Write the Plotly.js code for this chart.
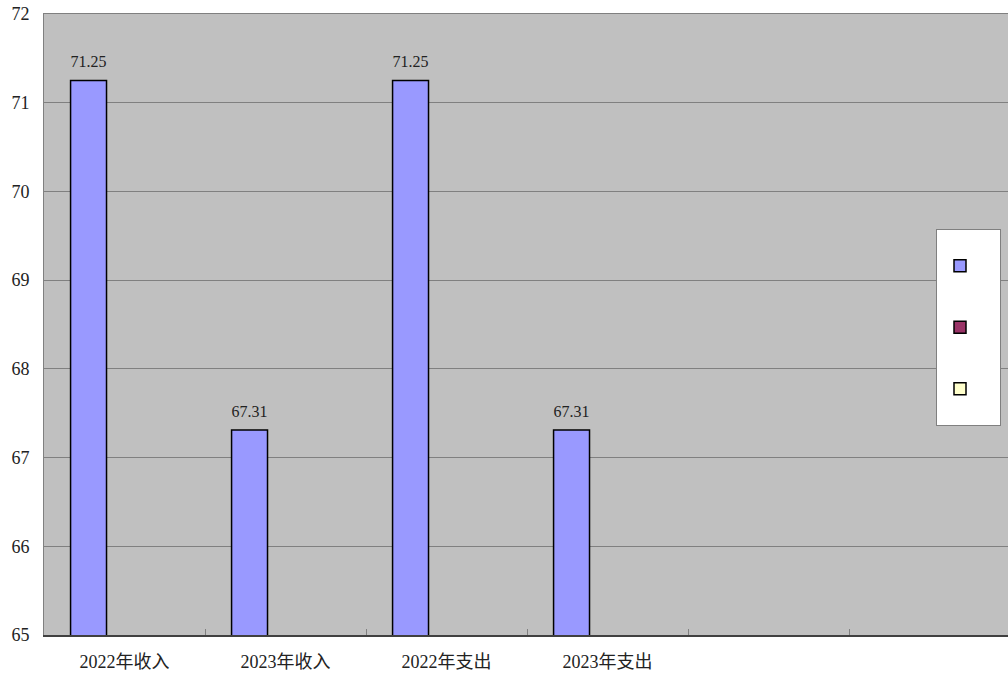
<!DOCTYPE html>
<html>
<head>
<meta charset="utf-8">
<script src="https://cdn.plot.ly/plotly-3.0.1.min.js"></script>
<style>
html,body{margin:0;padding:0;overflow:hidden;background:#fff;}
#chart{width:1010px;height:673px;}
</style>
</head>
<body>
<div id="chart"></div>
<script>
const categories = ["2022年收入", "2023年收入", "2022年支出", "2023年支出", "", ""];
const seriesA = [71.25, 67.31, 71.25, 67.31, null, null];
const seriesB = [null, null, null, null, null, null];
const seriesC = [null, null, null, null, null, null];
const yTicks = [65, 66, 67, 68, 69, 70, 71, 72];

const xs = categories.map((_, i) => i);
const boundaries = categories.slice(1).map((_, i) => i + 0.5);
const fontFam = "'Liberation Serif', 'Noto Sans CJK SC', serif";

const traces = [
  {type: "bar", x: xs, y: seriesA, name: " ", marker: {color: "#9999FF", line: {color: "#000", width: 1.5}},
   text: seriesA.map(v => v == null ? "" : "<span style='font-size:17px'>" + v.toFixed(2) + "</span><br> "),
   textposition: "outside",
   textfont: {family: fontFam, size: 7, color: "#222"}, cliponaxis: false, hoverinfo: "none"},
  {type: "bar", x: xs, y: seriesB, name: " ", marker: {color: "#993366", line: {color: "#000", width: 1.5}}, hoverinfo: "none"},
  {type: "bar", x: xs, y: seriesC, name: " ", marker: {color: "#FFFFCC", line: {color: "#000", width: 1.5}}, hoverinfo: "none"},
  {type: "scatter", x: [0], y: [null], xaxis: "x2", showlegend: false, hoverinfo: "none"},
  {type: "scatter", x: [0], y: [null], xaxis: "x3", showlegend: false, hoverinfo: "none"}
];

const layout = {
  width: 1010, height: 673,
  margin: {l: 44, r: 0, t: 14, b: 38},
  paper_bgcolor: "#FFFFFF",
  plot_bgcolor: "#C0C0C0",
  barmode: "group",
  bargap: 0.33,
  bargroupgap: 0,
  font: {family: fontFam, size: 18, color: "#222"},
  xaxis: {
    range: [-0.5, 5.5], tickvals: xs, ticktext: categories, ticks: "",
    showgrid: false, zeroline: false, showline: true, linecolor: "#404040", linewidth: 1.5,
    tickfont: {family: fontFam, size: 18, color: "#222"}, ticklabelstandoff: 10, fixedrange: true
  },
  xaxis2: {
    overlaying: "x", side: "bottom", range: [-0.5, 5.5], tickvals: boundaries,
    ticks: "inside", ticklen: 6, tickcolor: "#808080", showticklabels: false,
    showgrid: false, zeroline: false, showline: false
  },
  xaxis3: {
    overlaying: "x", side: "top", range: [-0.5, 5.5], ticks: "", showticklabels: false,
    showgrid: false, zeroline: false, showline: true, linecolor: "#808080", linewidth: 1
  },
  yaxis: {
    range: [65, 72], tickvals: yTicks, ticks: "", showgrid: true, gridcolor: "#808080", gridwidth: 1,
    zeroline: false, showline: true, linecolor: "#808080",
    tickfont: {family: fontFam, size: 18, color: "#222"}, ticklabelstandoff: 10, fixedrange: true
  },
  legend: {
    x: (936 - 44) / 966, y: (635 - 229) / 621, xanchor: "left", yanchor: "top",
    bgcolor: "#FFFFFF", bordercolor: "#808080", borderwidth: 1,
    font: {size: 45}, itemwidth: 36, tracegroupgap: 0
  },
  showlegend: true
};

Plotly.newPlot("chart", traces, layout, {staticPlot: true, displayModeBar: false});
</script>
</body>
</html>
